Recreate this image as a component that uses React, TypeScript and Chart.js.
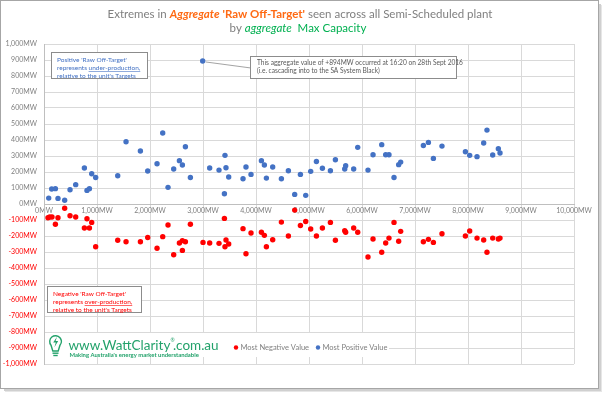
import React, { useEffect, useRef } from "react";
import { Chart, registerables } from "chart.js";

Chart.register(...registerables);

const negX = [75,108,151,215,264,390,491,598,762,811,857,900,975,1391,1548,1819,1957,2133,2240,2340,2447,2555,2611,2611,2668,2762,3000,3126,3302,3404,3415,3434,3485,3755,3811,3906,4102,4158,4196,4315,4479,4611,4730,4838,4938,5032,5140,5253,5404,5498,5674,5692,5843,5919,6113,6208,6372,6447,6509,6604,6692,6730,7158,7253,7347,7509,7951,8032,8170,8296,8358,8466,8573,8604];
const negY = [-86,-81,-81,-127,-86,-27,-73,-81,-150,-92,-150,-115,-267,-227,-236,-236,-209,-277,-204,-131,-317,-244,-229,-290,-236,-127,-240,-244,-246,-90,-267,-225,-250,-154,-311,-181,-177,-196,-267,-223,-113,-200,-38,-134,-109,-156,-200,-150,-115,-227,-167,-177,-150,-177,-331,-219,-302,-244,-213,-115,-233,-171,-236,-221,-240,-186,-200,-169,-213,-225,-302,-213,-219,-213];
const posX = [89,145,215,264,390,491,598,762,811,857,900,975,1391,1548,1819,1957,2133,2240,2340,2447,2555,2611,2668,2762,2994,3126,3302,3404,3415,3434,3485,3755,3811,3906,4102,4158,4196,4315,4479,4611,4730,4838,4938,5032,5140,5253,5404,5498,5674,5692,5843,5919,6113,6208,6372,6447,6509,6604,6692,6730,7158,7253,7347,7509,7951,8032,8170,8296,8358,8466,8573,8604];
const posY = [37,94,96,35,23,89,121,225,85,96,189,166,177,389,331,206,252,444,104,219,271,244,358,166,894,225,212,64,304,227,169,158,231,185,271,244,162,231,158,208,60,185,54,204,266,223,208,277,219,239,219,354,212,308,371,308,308,166,246,262,366,385,285,362,327,304,296,381,462,306,346,319];

const seriesNames = ["Most Negative Value", "Most Positive Value"];
const seriesColors = ["#FF0000", "#4472C4"];
const outlierX = 2994;
const outlierY = 894;

const FONT = "Lato, 'Open Sans', sans-serif";

type Seg = [string, string, string];

function drawRich(ctx: CanvasRenderingContext2D, segs: Seg[], cx: number, y: number) {
  let total = 0;
  const widths = segs.map(([t, f]) => { ctx.font = f; const w = ctx.measureText(t).width; total += w; return w; });
  let x = cx - total / 2;
  ctx.textBaseline = "middle";
  ctx.textAlign = "left";
  segs.forEach(([t, f, c], i) => { ctx.font = f; ctx.fillStyle = c; ctx.fillText(t, x, y); x += widths[i]; });
}

function drawNote(ctx: CanvasRenderingContext2D, x: number, y: number, w: number, h: number, lines: string[], color: string, tx: number, ty: number, lh: number, size: number, underline?: [number, string, string]) {
  ctx.fillStyle = "#FFFFFF";
  ctx.fillRect(x, y, w, h);
  ctx.strokeStyle = "#8C8C8C";
  ctx.lineWidth = 1;
  ctx.strokeRect(x + 0.5, y + 0.5, w, h);
  ctx.font = `${size}px ${FONT}`;
  ctx.fillStyle = color;
  ctx.textAlign = "left";
  ctx.textBaseline = "middle";
  lines.forEach((l, i) => ctx.fillText(l, tx, ty + i * lh));
  if (underline) {
    const [li, before, word] = underline;
    const bx = tx + ctx.measureText(before).width;
    const ww = ctx.measureText(word).width;
    const uy = Math.round(ty + li * lh + size * 0.45) + 0.5;
    ctx.strokeStyle = color;
    ctx.lineWidth = 0.6;
    ctx.beginPath(); ctx.moveTo(bx, uy); ctx.lineTo(bx + ww, uy); ctx.stroke();
  }
}

const decor = {
  id: "decor",
  beforeDraw(chart: any) {
    const ctx = chart.ctx as CanvasRenderingContext2D;
    ctx.save();
    ctx.fillStyle = "#FFFFFF";
    ctx.fillRect(0, 0, chart.width, chart.height);
    ctx.fillStyle = "#D0D0D0";
    ctx.fillRect(599, 4, 2, 386);
    ctx.fillRect(4, 389, 597, 2);
    ctx.fillStyle = "#E6E6E6";
    ctx.fillRect(601, 5, 1, 386);
    ctx.fillRect(5, 391, 597, 1);
    ctx.strokeStyle = "#A6A6A6";
    ctx.lineWidth = 1;
    ctx.strokeRect(0.5, 0.5, 598, 388);
    ctx.restore();
  },
  afterDraw(chart: any) {
    const ctx = chart.ctx as CanvasRenderingContext2D;
    const xs = chart.scales.x, ys = chart.scales.y;
    ctx.save();
    const gray = "#7F7F7F", orange = "#FF6A13", green = "#00B050";
    const sz = 11.5;
    drawRich(ctx, [
      ["Extremes in ", `${sz}px ${FONT}`, gray],
      ["Aggregate", `italic bold ${sz}px ${FONT}`, orange],
      [" ", `${sz}px ${FONT}`, gray],
      ["'Raw Off-Target'", `bold ${sz}px ${FONT}`, orange],
      [" seen across all Semi-Scheduled plant", `${sz}px ${FONT}`, gray],
    ], 300, 14);
    drawRich(ctx, [
      ["by ", `${sz}px ${FONT}`, gray],
      ["aggregate", `italic ${sz}px ${FONT}`, green],
      ["  Max Capacity", `${sz}px ${FONT}`, green],
    ], 298, 28);

    drawNote(ctx, 51, 52, 96, 26, ["Positive 'Raw Off-Target'", "represents under-production,", "relative to the unit's Targets"], "#4472C4", 57, 60, 7.8, 6.5, [1, "represents ", "under-production,"]);
    drawNote(ctx, 47, 286, 94, 26, ["Negative 'Raw Off-Target'", "represents over-production,", "relative to the unit's Targets"], "#FF0000", 53, 294, 7.8, 6.5, [1, "represents ", "over-production,"]);

    const px = xs.getPixelForValue(outlierX), py = ys.getPixelForValue(outlierY);
    ctx.strokeStyle = "#8C8C8C";
    ctx.lineWidth = 0.8;
    ctx.beginPath(); ctx.moveTo(px + 3, py + 1); ctx.lineTo(251, 68); ctx.stroke();
    drawNote(ctx, 250, 56, 206, 22, ["This aggregate value of +894MW occurred at 16:20 on 28th Sept 2016", "(i.e. cascading into to the SA System Black)"], "#595959", 257, 62.5, 8.5, 6.6);

    ctx.fillStyle = "#FFFFFF";
    ctx.fillRect(45, 333, 344, 24);
    const lg = "#23A26B";
    ctx.strokeStyle = lg; ctx.fillStyle = lg; ctx.lineWidth = 1.4;
    ctx.beginPath();
    ctx.arc(55.5, 341.5, 5.8, Math.PI * 0.78, Math.PI * 2.22);
    ctx.lineTo(58.2, 351);
    ctx.lineTo(52.8, 351);
    ctx.closePath();
    ctx.stroke();
    ctx.fillRect(52.5, 352.5, 6, 1.4);
    ctx.fillRect(53.3, 354.8, 4.4, 1.4);
    ctx.beginPath();
    ctx.moveTo(57, 336.8); ctx.lineTo(53.2, 342.5); ctx.lineTo(55.8, 342.5);
    ctx.lineTo(54.4, 347.2); ctx.lineTo(58.2, 341); ctx.lineTo(55.6, 341); ctx.closePath();
    ctx.fill();
    ctx.font = `13.5px ${FONT}`;
    ctx.textAlign = "left"; ctx.textBaseline = "alphabetic";
    ctx.fillText("www.WattClarity", 68.5, 350);
    const w1 = ctx.measureText("www.WattClarity").width;
    ctx.font = `5px ${FONT}`;
    ctx.fillText("®", 68.5 + w1, 342);
    const wr = ctx.measureText("®").width;
    ctx.font = `13.5px ${FONT}`;
    ctx.fillText(".com.au", 68.5 + w1 + wr * 0.6, 350);
    ctx.font = `bold 5.9px ${FONT}`;
    ctx.fillText("Making Australia's energy market understandable", 69.5, 357);

    ctx.font = `7.5px ${FONT}`;
    ctx.textBaseline = "middle";
    let lx = 234;
    seriesNames.forEach((n, i) => {
      ctx.fillStyle = seriesColors[i];
      ctx.beginPath(); ctx.arc(lx + 2, 347.5, 2.2, 0, Math.PI * 2); ctx.fill();
      ctx.fillStyle = "#7F7F7F";
      ctx.fillText(n, lx + 6.5, 347.5);
      lx += 82;
    });
    ctx.restore();
  },
};

export default function App() {
  const ref = useRef<HTMLCanvasElement | null>(null);
  useEffect(() => {
    if (!ref.current) return;
    const fmt = (v: number) => `${Number(v).toLocaleString("en-US")}MW`;
    const chart = new Chart(ref.current, {
      type: "scatter",
      data: {
        datasets: [
          { label: seriesNames[0], data: negX.map((x, i) => ({ x, y: negY[i] })), backgroundColor: seriesColors[0], borderWidth: 0, pointRadius: 2.7 },
          { label: seriesNames[1], data: posX.map((x, i) => ({ x, y: posY[i] })), backgroundColor: seriesColors[1], borderWidth: 0, pointRadius: 2.7 },
        ],
      },
      options: {
        responsive: false,
        animation: false,
        devicePixelRatio: 1,
        layout: { padding: { left: 0, top: 44, right: 30, bottom: 33 } },
        plugins: { legend: { display: false }, tooltip: { enabled: false }, title: { display: false } },
        scales: {
          x: {
            type: "linear", min: 0, max: 10000, position: { y: 0 } as any,
            ticks: { stepSize: 1000, callback: (v: any) => fmt(v), color: "#7F7F7F", font: { family: FONT, size: 7 }, padding: 3, maxRotation: 0, autoSkip: false },
            grid: { color: "#D9D9D9", drawTicks: false },
            border: { color: "#BFBFBF" },
          },
          y: {
            type: "linear", min: -1000, max: 1000, position: "left",
            afterFit: (s: any) => { s.width = 44; },
            ticks: { stepSize: 100, autoSkip: false, callback: (v: any) => fmt(v), color: (c: any) => (c.tick.value < 0 ? "#FF0000" : "#7F7F7F"), font: { family: FONT, size: 7 }, padding: 7 },
            grid: { color: "#D9D9D9", drawTicks: false },
            border: { color: "#BFBFBF" },
          },
        },
      },
      plugins: [decor],
    });
    return () => chart.destroy();
  }, []);
  return (
    <div style={{ position: "fixed", left: 0, top: 0, width: 604, height: 397 }}>
      <canvas ref={ref} width={604} height={397} style={{ width: 604, height: 397, display: "block" }} />
    </div>
  );
}
